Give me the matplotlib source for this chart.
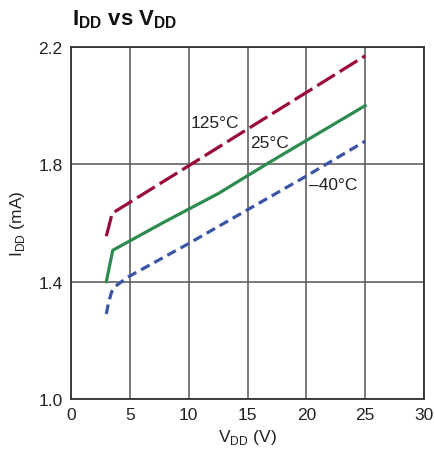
import matplotlib
matplotlib.use("Agg")
import matplotlib.pyplot as plt

plt.rcParams['font.family'] = ['Liberation Sans', 'DejaVu Sans']
plt.rcParams['mathtext.fontset'] = 'custom'
plt.rcParams['mathtext.rm'] = 'Liberation Sans'
plt.rcParams['mathtext.bf'] = 'Liberation Sans:bold'

# Data
v_125 = [3.0, 3.5, 10, 15, 20, 25]
i_125 = [1.555, 1.633, 1.795, 1.92, 2.045, 2.17]
v_25 = [3.0, 3.55, 8, 12.5, 17, 21, 25]
i_25 = [1.40, 1.507, 1.605, 1.70, 1.81, 1.905, 2.0]
v_m40 = [3.0, 3.2, 3.45, 3.8, 4.8, 10, 15, 20, 25]
i_m40 = [1.29, 1.33, 1.365, 1.385, 1.415, 1.53, 1.645, 1.76, 1.879]

xticks = [0, 5, 10, 15, 20, 25, 30]
yticks = [1.0, 1.4, 1.8, 2.2]

fig = plt.figure(figsize=(4.34, 4.60), dpi=100)
ax = fig.add_axes([0.1636, 0.1304, 0.8134, 0.7653])

red = '#9b0a3c'
green = '#2e8b50'
blue = '#3a54a6'

ax.plot(v_125, i_125, color=red, lw=2.3, dashes=(6.5, 1.8), dash_capstyle='butt')
ax.plot(v_25, i_25, color=green, lw=2.3)
ax.plot(v_m40, i_m40, color=blue, lw=2.3, dashes=(3.0, 1.7), dash_capstyle='butt')

ax.set_xlim(0, 30)
ax.set_ylim(1.0, 2.2)
ax.set_xticks(xticks)
ax.set_yticks(yticks)
ax.set_xticklabels([str(x) for x in xticks])
ax.set_yticklabels([f"{y:.1f}" for y in yticks])
ax.tick_params(length=0, labelsize=12.5, colors='#222222', pad=6)
ax.grid(True, color='#555555', lw=1.1)
ax.set_axisbelow(True)
for s in ax.spines.values():
    s.set_color('#333333')
    s.set_linewidth(1.3)

ax.set_xlabel(r'V$_{\mathrm{DD}}$ (V)', fontsize=12.5, color='#222222', labelpad=3)
ax.set_ylabel(r'I$_{\mathrm{DD}}$ (mA)', fontsize=12.5, color='#222222', labelpad=8)

ax.text(12.2, 1.944, '125°C', fontsize=12.5, color='#222222', ha='center', va='center')
ax.text(16.9, 1.876, '25°C', fontsize=12.5, color='#222222', ha='center', va='center')
ax.text(22.3, 1.732, '–40°C', fontsize=12.5, color='#222222', ha='center', va='center')

fig.text(0.166, 0.958, r'$\mathbf{I_{DD}}$ vs $\mathbf{V_{DD}}$', fontsize=16, fontweight='bold',
         color='#111111', ha='left', va='center')

fig.savefig('out.png', dpi=100)
